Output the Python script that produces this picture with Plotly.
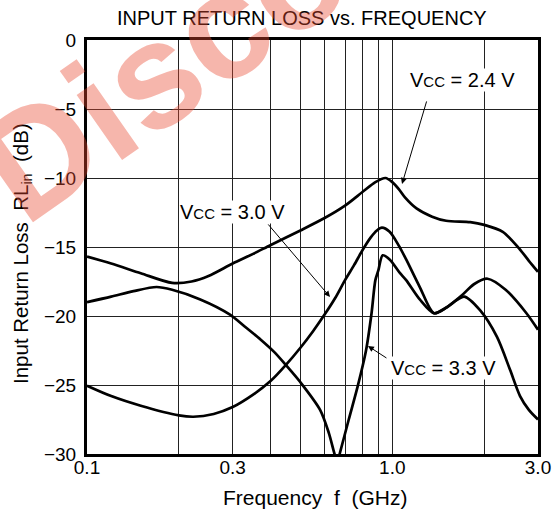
import math
import plotly.graph_objects as go

# ---- data ----
freq_24 = [0.1, 0.12, 0.15, 0.19, 0.22, 0.25, 0.3, 0.35, 0.4, 0.5, 0.6, 0.7, 0.8, 0.88, 0.95, 1.0, 1.05, 1.1, 1.2, 1.35, 1.5, 1.8, 2.0, 2.3, 2.6, 2.8, 3.0]
rl_24 = [-15.7, -16.2, -16.9, -17.6, -17.5, -17.1, -16.2, -15.5, -14.85, -13.8, -12.9, -12.0, -11.0, -10.3, -10.0, -10.3, -10.8, -11.4, -12.2, -12.8, -13.1, -13.2, -13.4, -13.9, -15.1, -16.0, -16.8]

freq_30 = [0.1, 0.12, 0.15, 0.2, 0.223, 0.26, 0.3, 0.35, 0.4, 0.446, 0.5, 0.55, 0.6, 0.65, 0.7, 0.75, 0.8, 0.85, 0.89, 0.925, 0.98, 1.05, 1.11, 1.23, 1.37, 1.5, 1.69, 1.85, 2.05, 2.35, 2.75, 3.0]
rl_30 = [-25.05, -25.8, -26.5, -27.2, -27.3, -27.1, -26.6, -25.7, -24.7, -23.6, -22.3, -21.1, -19.9, -18.7, -17.4, -16.3, -15.2, -14.3, -13.8, -13.6, -13.9, -14.9, -15.9, -17.9, -19.8, -19.4, -18.5, -17.7, -17.3, -18.1, -19.8, -21.0]

freq_33 = [0.1, 0.12, 0.142, 0.169, 0.19, 0.235, 0.294, 0.33, 0.37, 0.41, 0.446, 0.5, 0.58, 0.62, 0.645, 0.66, 0.672, 0.72, 0.77, 0.82, 0.855, 0.88, 0.9, 0.93, 0.98, 1.06, 1.11, 1.23, 1.37, 1.5, 1.72, 1.94, 2.2, 2.43, 2.62, 2.8, 3.0]
rl_33 = [-19.0, -18.6, -18.2, -17.9, -18.1, -18.8, -19.9, -20.8, -21.7, -22.6, -23.5, -24.8, -26.8, -28.5, -29.9, -30.6, -30.0, -27.5, -25.1, -22.5, -19.8, -17.4, -16.7, -15.6, -15.9, -16.9, -17.4, -18.8, -19.8, -19.4, -18.6, -19.6, -21.5, -23.9, -25.8, -26.8, -27.5]

x_tickvals = [0.1, 0.3, 1.0, 3.0]
x_ticktext = ["0.1", "0.3", "1.0", "3.0"]
x_minor_grid = [0.2, 0.4, 0.5, 0.6, 0.7, 0.8, 0.9, 2.0]
y_tickvals = [0, -5, -10, -15, -20, -25, -30]

FONT = "Liberation Sans, Arial, Helvetica, sans-serif"
FS = 19
NB = "\u00a0"

fig = go.Figure()
for fx, fy in [(freq_24, rl_24), (freq_30, rl_30), (freq_33, rl_33)]:
    fig.add_trace(go.Scatter(x=fx, y=fy, mode="lines",
                             line=dict(color="black", width=2.7, shape="spline", smoothing=0.8),
                             showlegend=False, hoverinfo="skip"))

fig.update_layout(
    width=555, height=514,
    margin=dict(l=87, r=17, t=40, b=60, autoexpand=False),
    paper_bgcolor="white", plot_bgcolor="white",
    font=dict(family=FONT, size=FS, color="black"),
    showlegend=False,
)
fig.update_xaxes(type="log", range=[-1, 0.47712], tickmode="array",
                 tickvals=x_tickvals, ticktext=x_ticktext, ticks="",
                 showgrid=True, gridcolor="#222", gridwidth=1,
                 minor=dict(tickmode="array", tickvals=x_minor_grid, showgrid=True,
                            gridcolor="#222", gridwidth=1, ticks=""),
                 showline=True, linecolor="black", linewidth=3, mirror=True,
                 zeroline=False, tickfont=dict(size=FS), ticklabelstandoff=-6,
                 automargin=False)
fig.update_yaxes(range=[-30, 0], tickmode="array", tickvals=y_tickvals, ticks="",
                 showgrid=True, gridcolor="#222", gridwidth=1,
                 showline=True, linecolor="black", linewidth=3, mirror=True,
                 zeroline=False, tickfont=dict(size=FS), ticklabelstandoff=4,
                 automargin=False)


def px_x(p):
    return (p - 87) / 451


def px_y(p):
    return (454 - p) / 414


small = "<span style='font-size:15px'>CC</span>"
ann = []
ann.append(dict(text="INPUT RETURN LOSS vs. FREQUENCY", xref="paper", yref="paper",
                x=px_x(302), y=px_y(18), xanchor="center", yanchor="middle",
                showarrow=False, font=dict(size=20)))
ann.append(dict(text="Frequency" + NB * 2 + "f" + NB * 2 + "(GHz)", xref="paper", yref="paper",
                x=px_x(315), y=px_y(497), xanchor="center", yanchor="middle",
                showarrow=False, font=dict(size=21)))
ann.append(dict(text="Input Return Loss" + NB * 2 + "RL<sub>in</sub>" + NB * 2 + "(dB)",
                xref="paper", yref="paper", x=px_x(22), y=px_y(254),
                xanchor="center", yanchor="middle", textangle=-90,
                showarrow=False, font=dict(size=20.5)))
for label, cx, cy in [("2.4", 462, 80), ("3.0", 232, 212), ("3.3", 443, 368)]:
    ann.append(dict(text="V" + small + " = " + label + " V", xref="paper", yref="paper",
                    x=px_x(cx), y=px_y(cy), xanchor="center", yanchor="middle",
                    showarrow=False, bgcolor="white", borderpad=0, font=dict(size=20)))
# arrows (tip at the curve, tail near label)
for fx, fy, ax, ay in [(1.076, -10.43, 25, -84), (0.625, -18.62, -63, -74), (0.832, -22.17, 20, 13)]:
    ann.append(dict(text="", x=math.log10(fx), y=fy, ax=ax, ay=ay, showarrow=True,
                    arrowhead=2, arrowsize=1.2, arrowwidth=1, arrowcolor="black"))
# watermark
ann.append(dict(text="<b>Discontinued</b>", xref="paper", yref="paper",
                x=px_x(384), y=px_y(-87), xanchor="center", yanchor="middle", textangle=-35,
                showarrow=False, font=dict(size=150, color="rgba(232,72,48,0.4)",
                                            family="Liberation Sans, Arial, sans-serif")))
fig.update_layout(annotations=ann)

fig.write_html("out.html", config={"displayModeBar": False},
               post_script="document.body.style.margin='0px';document.body.style.padding='0px';")
